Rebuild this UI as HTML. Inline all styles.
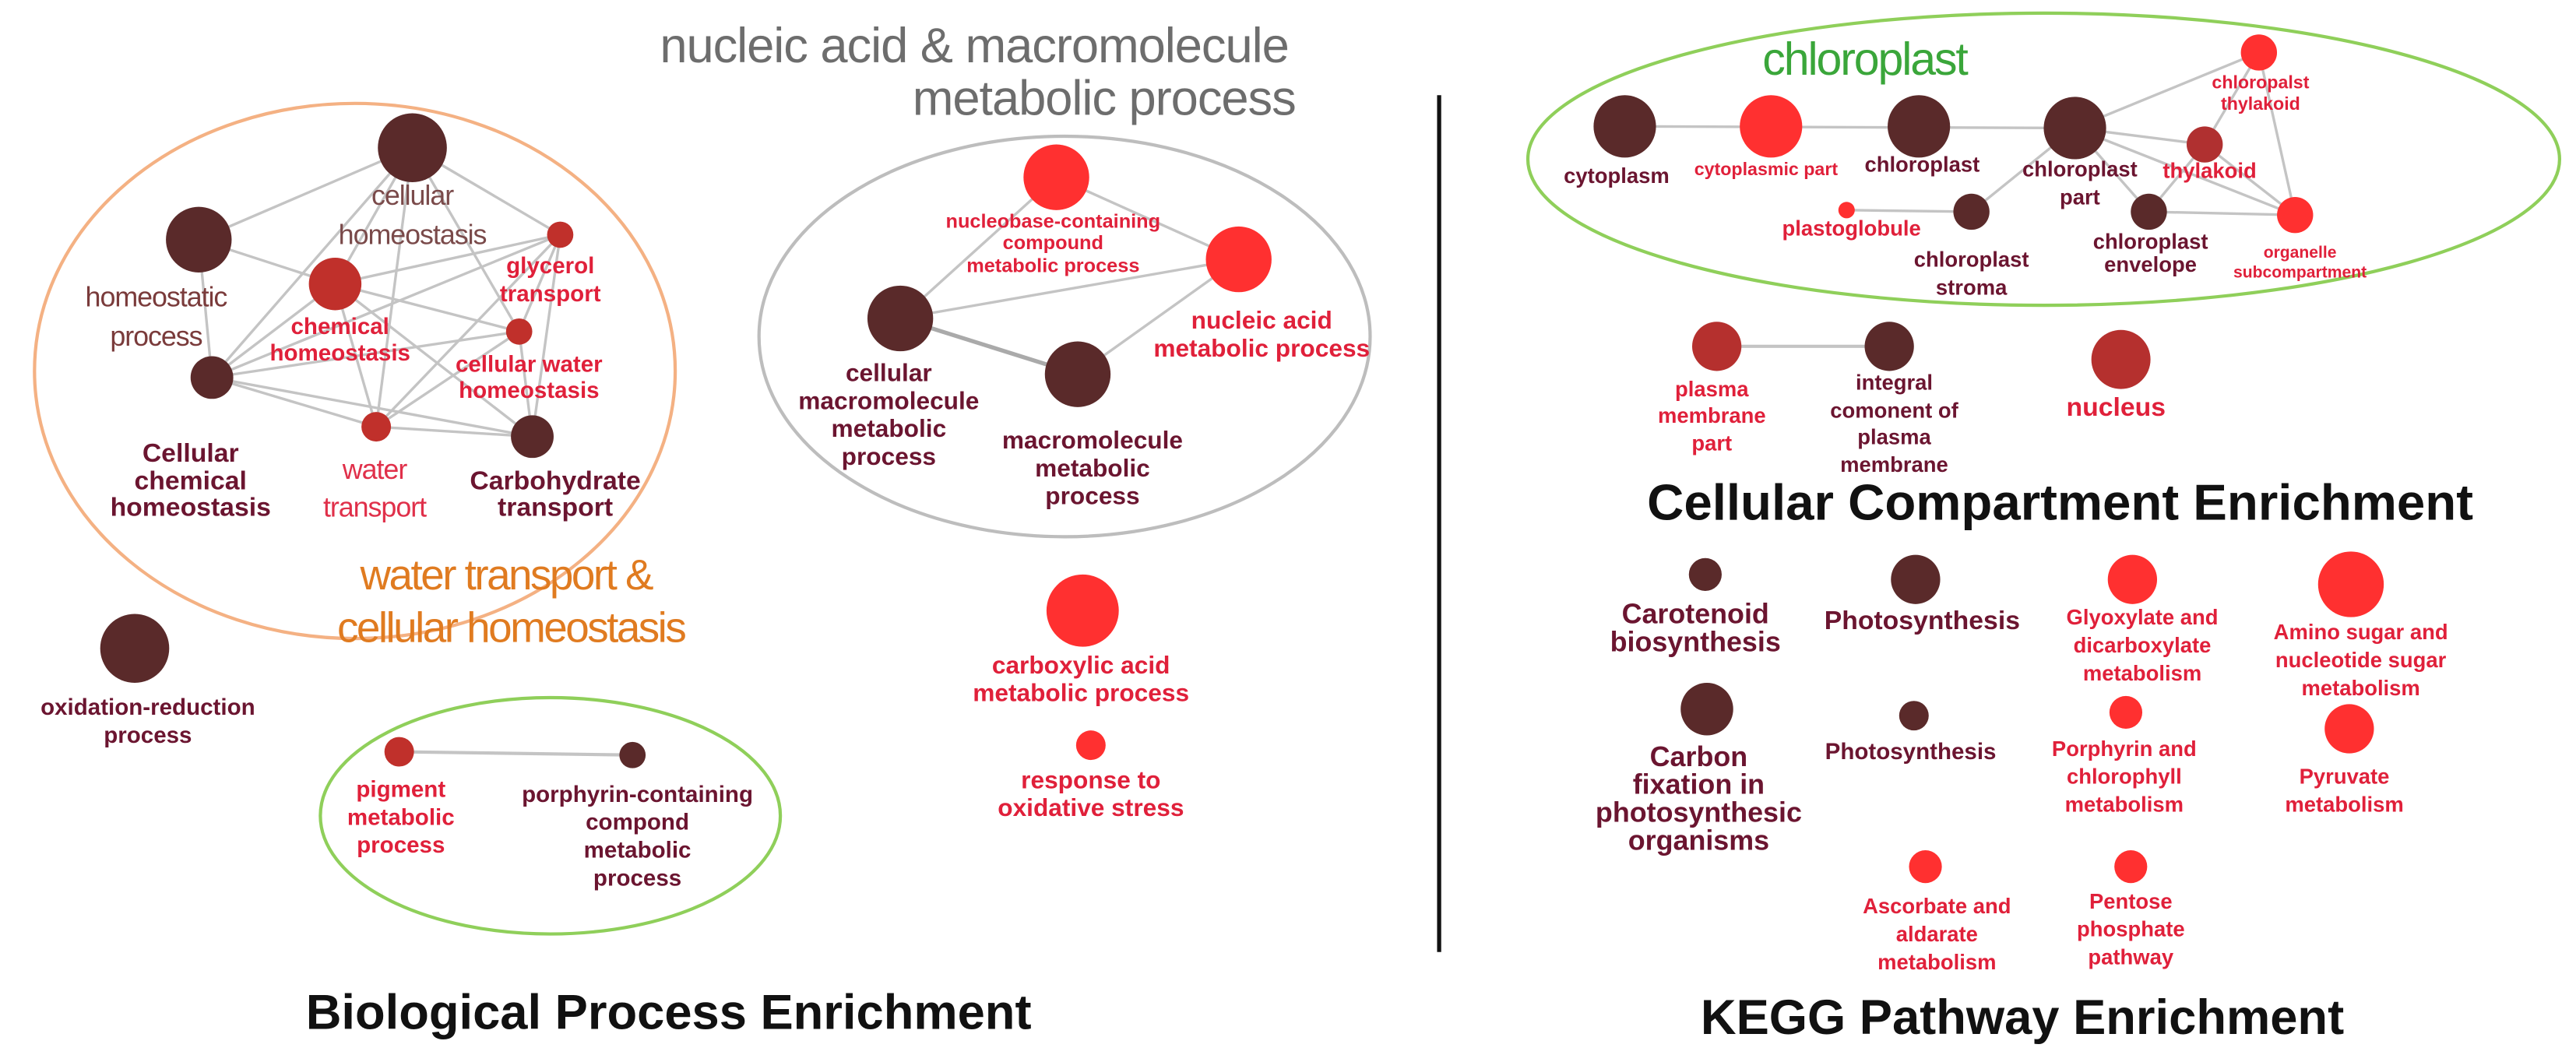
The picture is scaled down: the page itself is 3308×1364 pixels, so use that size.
<!DOCTYPE html>
<html><head><meta charset="utf-8"><style>
html,body{margin:0;padding:0;background:#fff;}
svg{display:block;}
text{font-family:"Liberation Sans",sans-serif;text-anchor:middle;dominant-baseline:central;}
.d{fill:#6b1530;font-weight:bold;}
.r{fill:#e0203a;font-weight:bold;}
.e line{stroke:#c4c4c4;stroke-width:1.6;}
</style></head><body>
<svg width="3308" height="1364" viewBox="0 0 1568 647" preserveAspectRatio="none" xmlns="http://www.w3.org/2000/svg">
<rect width="1568" height="647" fill="#fff"/>
<!-- titles -->
<text x="593" y="28" font-size="30" fill="#6d6d6d" letter-spacing="-0.5">nucleic acid &amp; macromolecule</text>
<text x="672" y="60" font-size="30" fill="#6d6d6d" letter-spacing="-0.5">metabolic process</text>
<line x1="876" y1="58" x2="876" y2="580" stroke="#111" stroke-width="2.5"/>

<!-- orange cluster -->
<ellipse cx="216" cy="226" rx="195" ry="163" fill="none" stroke="#f4b183" stroke-width="2"/>
<g class="e">
<line x1="251" y1="90" x2="121" y2="146"/><line x1="251" y1="90" x2="341" y2="143"/>
<line x1="251" y1="90" x2="204" y2="173"/><line x1="251" y1="90" x2="129" y2="230"/>
<line x1="251" y1="90" x2="229" y2="260"/><line x1="251" y1="90" x2="316" y2="202"/>
<line x1="121" y1="146" x2="204" y2="173"/><line x1="121" y1="146" x2="129" y2="230"/>
<line x1="204" y1="173" x2="341" y2="143"/><line x1="204" y1="173" x2="129" y2="230"/>
<line x1="204" y1="173" x2="229" y2="260"/><line x1="204" y1="173" x2="324" y2="266"/>
<line x1="204" y1="173" x2="316" y2="202"/>
<line x1="341" y1="143" x2="316" y2="202"/><line x1="341" y1="143" x2="229" y2="260"/>
<line x1="341" y1="143" x2="324" y2="266"/><line x1="341" y1="143" x2="129" y2="230"/>
<line x1="316" y1="202" x2="229" y2="260"/><line x1="316" y1="202" x2="324" y2="266"/>
<line x1="316" y1="202" x2="129" y2="230"/>
<line x1="129" y1="230" x2="229" y2="260"/><line x1="129" y1="230" x2="324" y2="266"/>
<line x1="229" y1="260" x2="324" y2="266"/>
</g>
<circle cx="251" cy="90" r="21" fill="#5a2a2a"/>
<circle cx="121" cy="146" r="20" fill="#5a2a2a"/>
<circle cx="204" cy="173" r="16" fill="#c0302b"/>
<circle cx="341" cy="143" r="8" fill="#c0302b"/>
<circle cx="316" cy="202" r="8" fill="#c0302b"/>
<circle cx="129" cy="230" r="13" fill="#5a2a2a"/>
<circle cx="229" cy="260" r="9" fill="#c0302b"/>
<circle cx="324" cy="266" r="13" fill="#5a2a2a"/>
<text x="251" y="119" font-size="17" fill="#7a4a4a" letter-spacing="-0.5">cellular</text>
<text x="251" y="143" font-size="17" fill="#7a4a4a" letter-spacing="-0.5">homeostasis</text>
<text x="95" y="181" font-size="17" fill="#7a3b3b" letter-spacing="-0.5">homeostatic</text>
<text x="95" y="205" font-size="17" fill="#7a3b3b" letter-spacing="-0.5">process</text>
<text x="207" y="199" font-size="14" class="r">chemical</text>
<text x="207" y="215" font-size="14" class="r">homeostasis</text>
<text x="335" y="162" font-size="14" class="r">glycerol</text>
<text x="335" y="179" font-size="14" class="r">transport</text>
<text x="322" y="222" font-size="14" class="r">cellular water</text>
<text x="322" y="238" font-size="14" class="r">homeostasis</text>
<text x="116" y="276" font-size="16" class="d">Cellular</text>
<text x="116" y="293" font-size="16" class="d">chemical</text>
<text x="116" y="309" font-size="16" class="d">homeostasis</text>
<text x="228" y="286" font-size="17" fill="#e0304a" letter-spacing="-0.5">water</text>
<text x="228" y="309" font-size="17" fill="#e0304a" letter-spacing="-0.5">transport</text>
<text x="338" y="293" font-size="16" class="d">Carbohydrate</text>
<text x="338" y="309" font-size="16" class="d">transport</text>
<text x="308" y="350" font-size="26" fill="#e07b20" letter-spacing="-1.2">water transport &amp;</text>
<text x="311" y="382" font-size="26" fill="#e07b20" letter-spacing="-1.2">cellular homeostasis</text>

<circle cx="82" cy="395" r="21" fill="#5a2a2a"/>
<text x="90" y="431" font-size="14" class="d">oxidation-reduction</text>
<text x="90" y="448" font-size="14" class="d">process</text>

<!-- green bottom cluster -->
<ellipse cx="335" cy="497" rx="140" ry="72" fill="none" stroke="#8fcf5a" stroke-width="2"/>
<line x1="243" y1="458" x2="385" y2="460" stroke="#c4c4c4" stroke-width="2"/>
<circle cx="243" cy="458" r="9" fill="#c0302b"/>
<circle cx="385" cy="460" r="8" fill="#5a2a2a"/>
<text x="244" y="481" font-size="14" class="r">pigment</text>
<text x="244" y="498" font-size="14" class="r">metabolic</text>
<text x="244" y="515" font-size="14" class="r">process</text>
<text x="388" y="484" font-size="14" class="d">porphyrin-containing</text>
<text x="388" y="501" font-size="14" class="d">compond</text>
<text x="388" y="518" font-size="14" class="d">metabolic</text>
<text x="388" y="535" font-size="14" class="d">process</text>

<!-- gray cluster -->
<ellipse cx="648" cy="205" rx="186" ry="122" fill="none" stroke="#bdbdbd" stroke-width="2"/>
<g class="e">
<line x1="643" y1="108" x2="754" y2="158"/><line x1="643" y1="108" x2="548" y2="194"/>
<line x1="548" y1="194" x2="754" y2="158"/><line x1="656" y1="228" x2="754" y2="158"/>
<line x1="548" y1="194" x2="656" y2="228" style="stroke:#aaa;stroke-width:2.5"/>
</g>
<circle cx="643" cy="108" r="20" fill="#ff3030"/>
<circle cx="754" cy="158" r="20" fill="#ff3030"/>
<circle cx="548" cy="194" r="20" fill="#5a2a2a"/>
<circle cx="656" cy="228" r="20" fill="#5a2a2a"/>
<text x="641" y="135" font-size="12" class="r">nucleobase-containing</text>
<text x="641" y="148" font-size="12" class="r">compound</text>
<text x="641" y="162" font-size="12" class="r">metabolic process</text>
<text x="768" y="195" font-size="15" class="r">nucleic acid</text>
<text x="768" y="212" font-size="15" class="r">metabolic process</text>
<text x="541" y="227" font-size="15" class="d">cellular</text>
<text x="541" y="244" font-size="15" class="d">macromolecule</text>
<text x="541" y="261" font-size="15" class="d">metabolic</text>
<text x="541" y="278" font-size="15" class="d">process</text>
<text x="665" y="268" font-size="15" class="d">macromolecule</text>
<text x="665" y="285" font-size="15" class="d">metabolic</text>
<text x="665" y="302" font-size="15" class="d">process</text>

<circle cx="659" cy="372" r="22" fill="#ff3030"/>
<text x="658" y="405" font-size="15" class="r">carboxylic acid</text>
<text x="658" y="422" font-size="15" class="r">metabolic process</text>
<circle cx="664" cy="454" r="9" fill="#ff3030"/>
<text x="664" y="475" font-size="15" class="r">response to</text>
<text x="664" y="492" font-size="15" class="r">oxidative stress</text>

<text x="407" y="617" font-size="30" font-weight="bold" fill="#111">Biological Process Enrichment</text>

<!-- chloroplast cluster -->
<ellipse cx="1244" cy="97" rx="314" ry="89" fill="none" stroke="#8fcf5a" stroke-width="2"/>
<text x="1135" y="36" font-size="28" fill="#3aa63a" letter-spacing="-1">chloroplast</text>
<g class="e">
<line x1="989" y1="77" x2="1263" y2="78"/>
<line x1="1263" y1="78" x2="1200" y2="129"/><line x1="1263" y1="78" x2="1342" y2="88"/>
<line x1="1263" y1="78" x2="1375" y2="32"/><line x1="1263" y1="78" x2="1308" y2="129"/>
<line x1="1263" y1="78" x2="1397" y2="131"/>
<line x1="1342" y1="88" x2="1375" y2="32"/><line x1="1342" y1="88" x2="1308" y2="129"/>
<line x1="1342" y1="88" x2="1397" y2="131"/><line x1="1375" y1="32" x2="1397" y2="131"/>
<line x1="1308" y1="129" x2="1397" y2="131"/><line x1="1124" y1="128" x2="1200" y2="129"/>
</g>
<circle cx="989" cy="77" r="19" fill="#5a2a2a"/>
<circle cx="1078" cy="77" r="19" fill="#ff3030"/>
<circle cx="1168" cy="77" r="19" fill="#5a2a2a"/>
<circle cx="1263" cy="78" r="19" fill="#5a2a2a"/>
<circle cx="1375" cy="32" r="11" fill="#ff3030"/>
<circle cx="1342" cy="88" r="11" fill="#b03030"/>
<circle cx="1124" cy="128" r="5" fill="#ff3030"/>
<circle cx="1200" cy="129" r="11" fill="#5a2a2a"/>
<circle cx="1308" cy="129" r="11" fill="#5a2a2a"/>
<circle cx="1397" cy="131" r="11" fill="#ff3030"/>
<text x="984" y="107" font-size="13" class="d">cytoplasm</text>
<text x="1075" y="103" font-size="11" class="r">cytoplasmic part</text>
<text x="1170" y="100" font-size="13" class="d">chloroplast</text>
<text x="1266" y="103" font-size="13" class="d">chloroplast</text>
<text x="1266" y="120" font-size="13" class="d">part</text>
<text x="1345" y="104" font-size="13" class="r">thylakoid</text>
<text x="1376" y="50" font-size="11" class="r">chloropalst</text>
<text x="1376" y="63" font-size="11" class="r">thylakoid</text>
<text x="1127" y="139" font-size="13" class="r">plastoglobule</text>
<text x="1200" y="158" font-size="13" class="d">chloroplast</text>
<text x="1200" y="175" font-size="13" class="d">stroma</text>
<text x="1309" y="147" font-size="13" class="d">chloroplast</text>
<text x="1309" y="161" font-size="13" class="d">envelope</text>
<text x="1400" y="154" font-size="10" class="r">organelle</text>
<text x="1400" y="166" font-size="10" class="r">subcompartment</text>

<line x1="1045" y1="211" x2="1150" y2="211" stroke="#c4c4c4" stroke-width="2"/>
<circle cx="1045" cy="211" r="15" fill="#b5302e"/>
<circle cx="1150" cy="211" r="15" fill="#5a2a2a"/>
<circle cx="1291" cy="219" r="18" fill="#b5302e"/>
<text x="1042" y="237" font-size="13" class="r">plasma</text>
<text x="1042" y="253" font-size="13" class="r">membrane</text>
<text x="1042" y="270" font-size="13" class="r">part</text>
<text x="1153" y="233" font-size="13" class="d">integral</text>
<text x="1153" y="250" font-size="13" class="d">comonent of</text>
<text x="1153" y="266" font-size="13" class="d">plasma</text>
<text x="1153" y="283" font-size="13" class="d">membrane</text>
<text x="1288" y="248" font-size="16" class="r">nucleus</text>
<text x="1254" y="306" font-size="31" font-weight="bold" fill="#111">Cellular Compartment Enrichment</text>

<!-- KEGG -->
<circle cx="1038" cy="350" r="10" fill="#5a2a2a"/>
<circle cx="1166" cy="353" r="15" fill="#5a2a2a"/>
<circle cx="1298" cy="353" r="15" fill="#ff3030"/>
<circle cx="1431" cy="356" r="20" fill="#ff3030"/>
<circle cx="1039" cy="432" r="16" fill="#5a2a2a"/>
<circle cx="1165" cy="436" r="9" fill="#5a2a2a"/>
<circle cx="1294" cy="434" r="10" fill="#ff3030"/>
<circle cx="1430" cy="444" r="15" fill="#ff3030"/>
<circle cx="1172" cy="528" r="10" fill="#ff3030"/>
<circle cx="1297" cy="528" r="10" fill="#ff3030"/>
<text x="1032" y="374" font-size="17" class="d">Carotenoid</text>
<text x="1032" y="391" font-size="17" class="d">biosynthesis</text>
<text x="1170" y="378" font-size="16" class="d">Photosynthesis</text>
<text x="1304" y="376" font-size="13" class="r">Glyoxylate and</text>
<text x="1304" y="393" font-size="13" class="r">dicarboxylate</text>
<text x="1304" y="410" font-size="13" class="r">metabolism</text>
<text x="1437" y="385" font-size="13" class="r">Amino sugar and</text>
<text x="1437" y="402" font-size="13" class="r">nucleotide sugar</text>
<text x="1437" y="419" font-size="13" class="r">metabolism</text>
<text x="1034" y="461" font-size="17" class="d">Carbon</text>
<text x="1034" y="478" font-size="17" class="d">fixation in</text>
<text x="1034" y="495" font-size="17" class="d">photosynthesic</text>
<text x="1034" y="512" font-size="17" class="d">organisms</text>
<text x="1163" y="458" font-size="14" class="d">Photosynthesis</text>
<text x="1293" y="456" font-size="13" class="r">Porphyrin and</text>
<text x="1293" y="473" font-size="13" class="r">chlorophyll</text>
<text x="1293" y="490" font-size="13" class="r">metabolism</text>
<text x="1427" y="473" font-size="13" class="r">Pyruvate</text>
<text x="1427" y="490" font-size="13" class="r">metabolism</text>
<text x="1179" y="552" font-size="13" class="r">Ascorbate and</text>
<text x="1179" y="569" font-size="13" class="r">aldarate</text>
<text x="1179" y="586" font-size="13" class="r">metabolism</text>
<text x="1297" y="549" font-size="13" class="r">Pentose</text>
<text x="1297" y="566" font-size="13" class="r">phosphate</text>
<text x="1297" y="583" font-size="13" class="r">pathway</text>
<text x="1231" y="620" font-size="30" font-weight="bold" fill="#111">KEGG Pathway Enrichment</text>
</svg>
</body></html>
